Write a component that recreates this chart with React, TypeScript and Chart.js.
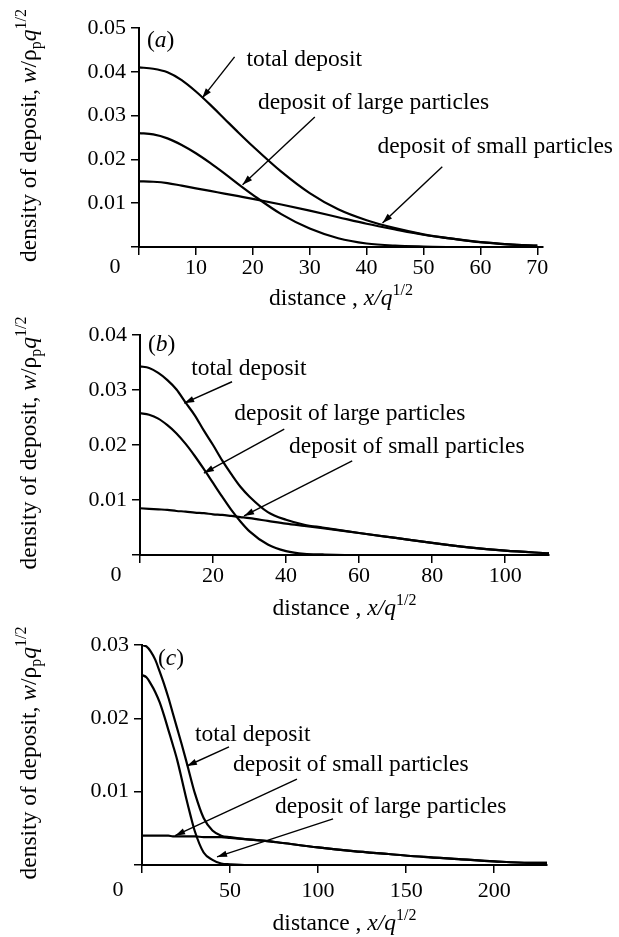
import React, { useEffect, useRef } from "react";
import { Chart, registerables } from "chart.js";

Chart.register(...registerables);

const SERIF = '"Liberation Serif", "Times New Roman", Times, serif';
const FS = 22; // tick labels
const TS = 23.5; // titles and annotations

// ---------------- panel (a) ----------------
const distanceA = [0, 2.5, 5, 7.5, 10, 12.5, 15, 17.5, 20, 25, 30, 35, 40, 45, 50, 55, 60, 65, 70];
const totalA = [0.041, 0.0407, 0.0399, 0.0381, 0.0355, 0.0325, 0.0293, 0.0261, 0.023, 0.0172, 0.0123, 0.0086, 0.0061, 0.0043, 0.0029, 0.0019, 0.0011, 0.0006, 0.0003];
const largeA = [0.026, 0.0257, 0.0248, 0.0233, 0.0214, 0.0192, 0.0168, 0.0143, 0.0119, 0.0075, 0.0042, 0.002, 0.0008, 0.0003, 0.0001, 0, 0, 0, 0];
const smallA = [0.015, 0.0149, 0.0146, 0.014, 0.0134, 0.0128, 0.0122, 0.0116, 0.011, 0.0097, 0.0083, 0.0068, 0.0053, 0.004, 0.0028, 0.0019, 0.0011, 0.0006, 0.0003];
const xTicksA = [0, 10, 20, 30, 40, 50, 60, 70];
const xLabelsA = ["", "10", "20", "30", "40", "50", "60", "70"];
const yTicksA = [0, 0.01, 0.02, 0.03, 0.04, 0.05];
const yLabelsA = ["", "0.01", "0.02", "0.03", "0.04", "0.05"];

// ---------------- panel (b) ----------------
const distanceB = [0, 2.5, 5, 7.5, 10, 12.5, 15, 17.5, 20, 22.5, 25, 27.5, 30, 35, 40, 45, 50, 60, 70, 80, 90, 100, 112];
const totalB = [0.0343, 0.034, 0.0331, 0.0318, 0.0301, 0.0277, 0.0254, 0.0226, 0.02, 0.0172, 0.0147, 0.0124, 0.0106, 0.0078, 0.0064, 0.0055, 0.005, 0.004, 0.0031, 0.0022, 0.0014, 0.0008, 0.0003];
const largeB = [0.0258, 0.0255, 0.0248, 0.0236, 0.0221, 0.0202, 0.018, 0.0156, 0.0131, 0.0106, 0.0082, 0.0061, 0.0043, 0.0019, 0.0007, 0.0002, 0.0001, 0, 0, 0, 0, 0, 0];
const smallB = [0.0085, 0.0084, 0.0083, 0.0082, 0.008, 0.0079, 0.0077, 0.0076, 0.0074, 0.0073, 0.0071, 0.0069, 0.0067, 0.0062, 0.0057, 0.0053, 0.0049, 0.004, 0.0031, 0.0022, 0.0014, 0.0008, 0.0003];
const xTicksB = [0, 20, 40, 60, 80, 100];
const xLabelsB = ["", "20", "40", "60", "80", "100"];
const yTicksB = [0, 0.01, 0.02, 0.03, 0.04];
const yLabelsB = ["", "0.01", "0.02", "0.03", "0.04"];

// ---------------- panel (c) ----------------
const distanceC = [0, 2.5, 5, 7.5, 10, 12.5, 15, 17.5, 20, 22.5, 25, 27.5, 30, 35, 40, 45, 50, 60, 70, 80, 100, 120, 140, 160, 180, 200, 220, 230];
const totalC = [0.03, 0.0298, 0.0291, 0.028, 0.0264, 0.0247, 0.0228, 0.0207, 0.0186, 0.0165, 0.0143, 0.012, 0.0098, 0.0064, 0.0047, 0.004, 0.0038, 0.0035, 0.0033, 0.003, 0.0024, 0.0019, 0.0015, 0.0011, 0.0008, 0.0005, 0.0003, 0.0003];
const largeC = [0.0259, 0.0256, 0.0247, 0.0236, 0.0222, 0.0204, 0.0184, 0.0164, 0.0143, 0.0118, 0.0092, 0.0068, 0.0046, 0.0017, 0.0007, 0.0002, 0.0001, 0, 0, 0, 0, 0, 0, 0, 0, 0, 0, 0];
const smallC = [0.004, 0.004, 0.004, 0.004, 0.004, 0.004, 0.004, 0.0039, 0.0039, 0.0039, 0.0039, 0.0039, 0.0039, 0.0038, 0.0038, 0.0038, 0.0037, 0.0035, 0.0033, 0.003, 0.0024, 0.0019, 0.0015, 0.0011, 0.0008, 0.0005, 0.0003, 0.0003];
const xTicksC = [0, 50, 100, 150, 200];
const xLabelsC = ["", "50", "100", "150", "200"];
const yTicksC = [0, 0.01, 0.02, 0.03];
const yLabelsC = ["", "0.01", "0.02", "0.03"];

type Pt = [number, number];
interface Note { text: string; at: Pt; from: Pt; to: Pt }
interface Seg { t: string; it?: boolean; sub?: boolean; sup?: boolean }
interface PanelSpec {
  top: number;
  height: number;
  area: { left: number; right: number; top: number; bottom: number };
  xMax: number;
  yMax: number;
  distance: number[];
  total: number[];
  large: number[];
  small: number[];
  xTicks: number[];
  xLabels: string[];
  yTicks: number[];
  yLabels: string[];
  letter: string;
  letterAt: Pt;
  notes: Note[];
  tickGap: number;
  titleGap: number;
}

const Y_TITLE: Seg[] = [
  { t: "density of deposit, " },
  { t: "w", it: true },
  { t: "/\u03C1" },
  { t: "p", sub: true },
  { t: "q", it: true },
  { t: "1/2", sup: true },
];
const X_TITLE: Seg[] = [{ t: "distance , " }, { t: "x/q", it: true }, { t: "1/2", sup: true }];

function segFont(s: Seg, size: number) {
  const sz = s.sub || s.sup ? Math.round(size * 0.66) : size;
  return `${s.it ? "italic " : ""}${sz}px ${SERIF}`;
}
function richWidth(ctx: CanvasRenderingContext2D, segs: Seg[], size: number) {
  let w = 0;
  for (const s of segs) {
    ctx.font = segFont(s, size);
    w += ctx.measureText(s.t).width;
  }
  return w;
}
function drawRich(ctx: CanvasRenderingContext2D, segs: Seg[], x: number, y: number, size: number) {
  let cx = x;
  ctx.textAlign = "left";
  ctx.textBaseline = "alphabetic";
  for (const s of segs) {
    ctx.font = segFont(s, size);
    const dy = s.sub ? size * 0.22 : s.sup ? -size * 0.42 : 0;
    ctx.fillText(s.t, cx, y + dy);
    cx += ctx.measureText(s.t).width;
  }
}
function arrow(ctx: CanvasRenderingContext2D, x1: number, y1: number, x2: number, y2: number) {
  ctx.lineWidth = 1.4;
  ctx.beginPath();
  ctx.moveTo(x1, y1);
  ctx.lineTo(x2, y2);
  ctx.stroke();
  const a = Math.atan2(y2 - y1, x2 - x1);
  const L = 10, W = 3.2;
  ctx.beginPath();
  ctx.moveTo(x2, y2);
  ctx.lineTo(x2 - L * Math.cos(a) + W * Math.sin(a), y2 - L * Math.sin(a) - W * Math.cos(a));
  ctx.lineTo(x2 - L * Math.cos(a) - W * Math.sin(a), y2 - L * Math.sin(a) + W * Math.cos(a));
  ctx.closePath();
  ctx.fill();
}

function overlay(spec: PanelSpec) {
  return {
    id: "overlay",
    afterDraw(chart: any) {
      const ctx: CanvasRenderingContext2D = chart.ctx;
      const xs = chart.scales.x;
      const ys = chart.scales.y;
      const a = chart.chartArea;
      const P = (p: Pt): Pt => [xs.getPixelForValue(p[0]), ys.getPixelForValue(p[1])];
      ctx.save();
      ctx.fillStyle = "#000";
      ctx.strokeStyle = "#000";
      // y title (rotated)
      ctx.save();
      ctx.translate(36, (a.top + a.bottom) / 2 - 2);
      ctx.rotate(-Math.PI / 2);
      const wy = richWidth(ctx, Y_TITLE, TS);
      drawRich(ctx, Y_TITLE, -wy / 2, 0, TS);
      ctx.restore();
      // x title
      const wx = richWidth(ctx, X_TITLE, TS);
      drawRich(ctx, X_TITLE, (a.left + a.right) / 2 - wx / 2, a.bottom + spec.titleGap, TS);
      // shared origin label
      ctx.font = `${FS}px ${SERIF}`;
      ctx.textAlign = "center";
      ctx.textBaseline = "middle";
      ctx.fillText("0", a.left - 24, a.bottom + spec.tickGap);
      // panel letter
      const lp = P(spec.letterAt);
      drawRich(ctx, [{ t: "(" }, { t: spec.letter, it: true }, { t: ")" }], lp[0], lp[1] + 7, TS);
      // annotations
      for (const n of spec.notes) {
        const tp = P(n.at);
        ctx.font = `${TS}px ${SERIF}`;
        ctx.textAlign = "left";
        ctx.textBaseline = "middle";
        ctx.fillText(n.text, tp[0], tp[1]);
        const f = P(n.from);
        const t = P(n.to);
        arrow(ctx, f[0], f[1], t[0], t[1]);
      }
      ctx.restore();
    },
  };
}

function buildConfig(spec: PanelSpec): any {
  const line = (ys: number[]) => ({
    data: spec.distance.map((x, i) => ({ x, y: ys[i] })),
    borderColor: "#000",
    borderWidth: 2.2,
    pointRadius: 0,
    fill: false,
    cubicInterpolationMode: "monotone",
  });
  const tickFont = { family: SERIF, size: FS };
  return {
    type: "line",
    data: { datasets: [line(spec.total), line(spec.large), line(spec.small)] },
    options: {
      animation: false,
      responsive: false,
      layout: { padding: { top: spec.area.top, right: 619 - spec.area.right, bottom: 0, left: 0 } },
      plugins: { legend: { display: false }, tooltip: { enabled: false } },
      scales: {
        x: {
          type: "linear",
          min: 0,
          max: spec.xMax,
          afterBuildTicks: (s: any) => {
            s.ticks = spec.xTicks.map((v) => ({ value: v }));
          },
          afterFit: (s: any) => {
            s.height = spec.height - spec.area.bottom;
          },
          ticks: {
            autoSkip: false,
            maxRotation: 0,
            color: "#000",
            font: tickFont,
            padding: spec.tickGap - 20,
            callback: (_v: any, i: number) => spec.xLabels[i],
          },
          grid: { drawOnChartArea: false, drawTicks: true, tickLength: 8, color: "#000", lineWidth: 1.5 },
          border: { display: true, color: "#000", width: 2 },
        },
        y: {
          type: "linear",
          min: 0,
          max: spec.yMax,
          afterBuildTicks: (s: any) => {
            s.ticks = spec.yTicks.map((v) => ({ value: v }));
          },
          afterFit: (s: any) => {
            s.width = spec.area.left;
          },
          ticks: {
            autoSkip: false,
            color: "#000",
            font: tickFont,
            padding: 5,
            callback: (_v: any, i: number) => spec.yLabels[i],
          },
          grid: { drawOnChartArea: false, drawTicks: true, tickLength: 8, color: "#000", lineWidth: 1.5 },
          border: { display: true, color: "#000", width: 2 },
        },
      },
    },
    plugins: [overlay(spec)],
  };
}

const PANELS: PanelSpec[] = [
  {
    top: 0,
    height: 310,
    area: { left: 139, right: 543, top: 28, bottom: 247 },
    xMax: 71,
    yMax: 0.05,
    distance: distanceA,
    total: totalA,
    large: largeA,
    small: smallA,
    xTicks: xTicksA,
    xLabels: xLabelsA,
    yTicks: yTicksA,
    yLabels: yLabelsA,
    letter: "a",
    letterAt: [1.4, 0.0473],
    notes: [
      { text: "total deposit", at: [18.9, 0.0427], from: [16.8, 0.0434], to: [11.1, 0.034] },
      { text: "deposit of large particles", at: [20.9, 0.0329], from: [30.9, 0.0297], to: [18.2, 0.0142] },
      { text: "deposit of small particles", at: [41.9, 0.0228], from: [53.3, 0.0183], to: [42.8, 0.0055] },
    ],
    tickGap: 20,
    titleGap: 58,
  },
  {
    top: 310,
    height: 310,
    area: { left: 140, right: 549, top: 25, bottom: 245 },
    xMax: 112,
    yMax: 0.04,
    distance: distanceB,
    total: totalB,
    large: largeB,
    small: smallB,
    xTicks: xTicksB,
    xLabels: xLabelsB,
    yTicks: yTicksB,
    yLabels: yLabelsB,
    letter: "b",
    letterAt: [2.2, 0.0384],
    notes: [
      { text: "total deposit", at: [14.0, 0.0338], from: [25.2, 0.0315], to: [12.1, 0.0276] },
      { text: "deposit of large particles", at: [25.8, 0.0256], from: [39.5, 0.0229], to: [17.5, 0.0149] },
      { text: "deposit of small particles", at: [40.8, 0.0196], from: [58.1, 0.0171], to: [28.5, 0.0071] },
    ],
    tickGap: 20,
    titleGap: 60,
  },
  {
    top: 620,
    height: 317,
    area: { left: 142, right: 547, top: 25, bottom: 245 },
    xMax: 230,
    yMax: 0.03,
    distance: distanceC,
    total: totalC,
    large: largeC,
    small: smallC,
    xTicks: xTicksC,
    xLabels: xLabelsC,
    yTicks: yTicksC,
    yLabels: yLabelsC,
    letter: "c",
    letterAt: [9.1, 0.0282],
    notes: [
      { text: "total deposit", at: [30.1, 0.0178], from: [49.4, 0.0161], to: [25.5, 0.0135] },
      { text: "deposit of small particles", at: [51.7, 0.0136], from: [88, 0.0117], to: [18.8, 0.004] },
      { text: "deposit of large particles", at: [75.6, 0.008], from: [108.5, 0.0063], to: [42.6, 0.0011] },
    ],
    tickGap: 25,
    titleGap: 65,
  },
];

function Panel({ spec }: { spec: PanelSpec }) {
  const ref = useRef<HTMLCanvasElement>(null);
  useEffect(() => {
    if (!ref.current) return;
    const chart = new Chart(ref.current, buildConfig(spec));
    return () => chart.destroy();
  }, [spec]);
  return (
    <canvas
      ref={ref}
      width={619}
      height={spec.height}
      style={{ position: "absolute", left: 0, top: spec.top, width: 619, height: spec.height, display: "block" }}
    />
  );
}

export default function App() {
  return (
    <div style={{ position: "absolute", left: 0, top: 0, width: 619, height: 937, background: "#fff", overflow: "hidden" }}>
      {PANELS.map((p, i) => (
        <Panel key={i} spec={p} />
      ))}
    </div>
  );
}
